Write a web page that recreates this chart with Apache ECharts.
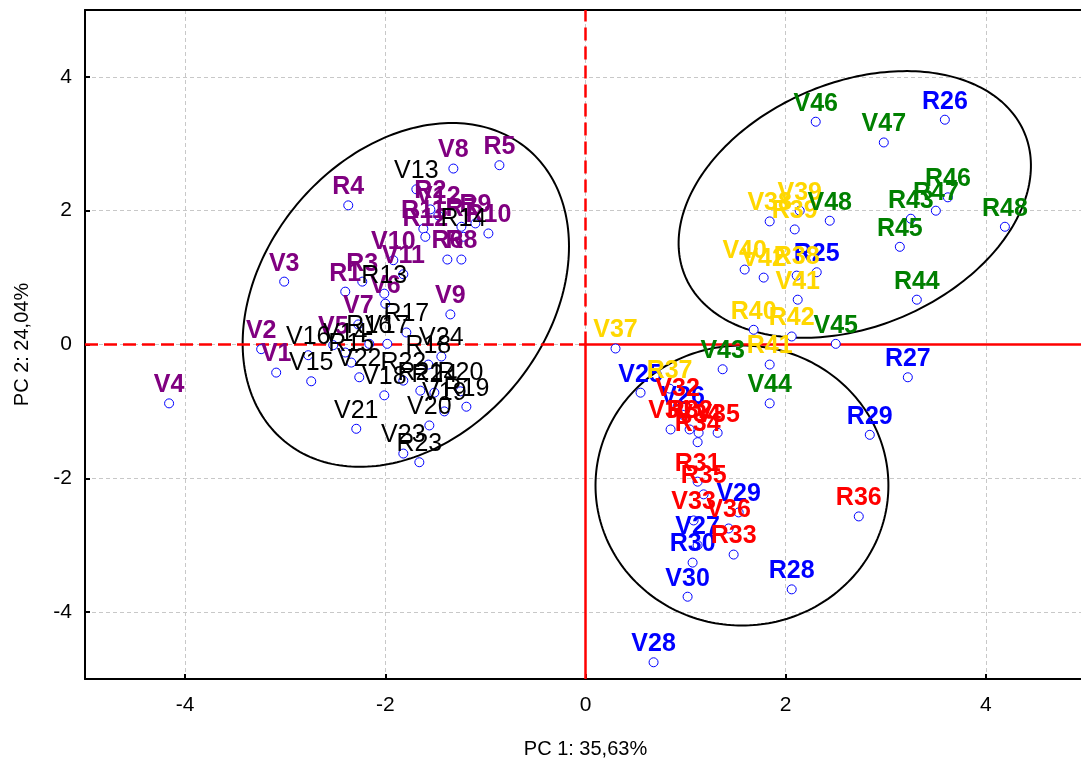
<!DOCTYPE html>
<html>
<head>
<meta charset="utf-8">
<script src="https://cdn.jsdelivr.net/npm/echarts@6/dist/echarts.min.js"></script>
<style>
  html, body { margin: 0; padding: 0; background: #ffffff; }
  #chart { width: 1081px; height: 760px; }
</style>
</head>
<body>
<div id="chart"></div>
<script>
// PCA scores: [label, PC 1, PC 2]
const purpleSamples = [
  ['V1', -3.09, -0.42], ['V2', -3.24, -0.07], ['V3', -3.01, 0.94], ['V4', -4.16, -0.88],
  ['V5', -2.52, -0.01], ['V6', -2.00, 0.61], ['V7', -2.27, 0.30], ['V8', -1.32, 2.63],
  ['V9', -1.35, 0.45], ['V10', -1.92, 1.26], ['V11', -1.82, 1.05], ['V12', -1.47, 1.93],
  ['R1', -2.40, 0.79], ['R2', -1.55, 2.02], ['R3', -2.23, 0.94], ['R4', -2.37, 2.08],
  ['R5', -0.86, 2.68], ['R6', -1.38, 1.27], ['R7', -1.24, 1.76], ['R8', -1.24, 1.27],
  ['R9', -1.10, 1.81], ['R10', -0.97, 1.66], ['R11', -1.62, 1.73], ['R12', -1.60, 1.61]
];
const blackSamples = [
  ['V13', -1.69, 2.32], ['V14', -2.40, -0.12], ['V15', -2.74, -0.55], ['V16', -2.77, -0.16],
  ['V17', -1.98, 0.01], ['V18', -2.01, -0.76], ['V19', -1.41, -1.00], ['V20', -1.56, -1.21],
  ['V21', -2.29, -1.26], ['V22', -2.26, -0.49], ['V23', -1.82, -1.63], ['V24', -1.44, -0.18],
  ['R13', -2.01, 0.76], ['R14', -1.22, 1.61], ['R15', -2.34, -0.27], ['R16', -2.16, 0.01],
  ['R17', -1.79, 0.18], ['R18', -1.57, -0.30], ['R19', -1.19, -0.93], ['R20', -1.25, -0.70],
  ['R21', -1.65, -0.69], ['R22', -1.82, -0.54], ['R23', -1.66, -1.76], ['R24', -1.51, -0.72]
];
const blueSamples = [
  ['V25', 0.55, -0.72], ['V26', 0.97, -1.05], ['V27', 1.12, -3.00], ['V28', 0.68, -4.75],
  ['V29', 1.53, -2.51], ['V30', 1.02, -3.77],
  ['R25', 2.31, 1.08], ['R26', 3.59, 3.36], ['R27', 3.22, -0.49], ['R28', 2.06, -3.66],
  ['R29', 2.84, -1.35], ['R30', 1.07, -3.26]
];
const redSamples = [
  ['V31', 0.85, -1.27], ['V32', 0.92, -0.93], ['V33', 1.08, -2.63], ['V34', 1.13, -1.32],
  ['V35', 1.32, -1.32], ['V36', 1.43, -2.75],
  ['R31', 1.12, -2.05], ['R32', 1.04, -1.27], ['R33', 1.48, -3.14], ['R34', 1.12, -1.46],
  ['R35', 1.18, -2.24], ['R36', 2.73, -2.57]
];
const goldSamples = [
  ['V37', 0.30, -0.06], ['V38', 1.84, 1.84], ['V39', 2.14, 2.00], ['V40', 1.59, 1.12],
  ['V41', 2.12, 0.67], ['V42', 1.78, 1.00],
  ['R37', 0.84, -0.66], ['R38', 2.11, 1.03], ['R39', 2.09, 1.72], ['R40', 1.68, 0.22],
  ['R41', 1.84, -0.30], ['R42', 2.06, 0.12]
];
const greenSamples = [
  ['V43', 1.37, -0.37], ['V44', 1.84, -0.88], ['V45', 2.50, 0.01], ['V46', 2.30, 3.33],
  ['V47', 2.98, 3.02], ['V48', 2.44, 1.85],
  ['R43', 3.25, 1.88], ['R44', 3.31, 0.67], ['R45', 3.14, 1.46], ['R46', 3.62, 2.20],
  ['R47', 3.50, 2.00], ['R48', 4.19, 1.76]
];

// Group ellipses: centre and two conjugate semi-axis vectors, in PC units
const ellipses = [
  { cx: -1.795, cy: 0.741, u: [1.212, 2.187], v: [-1.090, 1.349] },
  { cx: 2.690, cy: 2.093, u: [1.694, 1.075], v: [-0.477, 1.679] },
  { cx: 1.563, cy: -2.108, u: [1.463, 0.0], v: [0.0, 2.093] }
];

// Zero reference lines through the origin
const zeroDashed = [ [[-5, 0], [0, 0]], [[0, 0], [0, 5]] ];
const zeroSolid = [ [[0, 0], [5, 0]], [[0, 0], [0, -5]] ];

const axisRange = [-5, 5];
const xTitle = 'PC 1: 35,63%';
const yTitle = 'PC 2: 24,04%';

const groups = [
  { data: purpleSamples, color: '#800080', weight: 'bold' },
  { data: blackSamples, color: '#000000', weight: 'normal' },
  { data: blueSamples, color: '#0000ff', weight: 'bold' },
  { data: redSamples, color: '#ff0000', weight: 'bold' },
  { data: goldSamples, color: '#ffd700', weight: 'bold' },
  { data: greenSamples, color: '#008000', weight: 'bold' }
];

const FONT = "'Liberation Sans', Arial, Helvetica, sans-serif";

function axisCommon(name, gap, labelMargin) {
  return {
    type: 'value',
    min: axisRange[0],
    max: axisRange[1],
    splitNumber: 5,
    name: name,
    nameLocation: 'middle',
    nameGap: gap,
    nameTextStyle: { fontFamily: FONT, fontSize: 20, color: '#000' },
    axisLine: { show: true, onZero: false, lineStyle: { color: '#000', width: 2 } },
    axisTick: { show: true, inside: true, length: 5, lineStyle: { color: '#000', width: 2 } },
    axisLabel: {
      fontFamily: FONT, fontSize: 21, color: '#000', margin: labelMargin,
      showMinLabel: false, showMaxLabel: false
    },
    splitLine: { show: true, lineStyle: { color: '#c8c8c8', width: 1, type: [4, 3] } }
  };
}

// frame edges on the opposite sides (line only)
function frameAxis(position) {
  return {
    type: 'value', position: position, min: axisRange[0], max: axisRange[1],
    axisLine: { show: true, onZero: false, lineStyle: { color: '#000', width: 2 } },
    axisTick: { show: false }, axisLabel: { show: false }, splitLine: { show: false }
  };
}

const series = [];

// ellipses
series.push({
  type: 'custom',
  silent: true,
  z: 3,
  data: ellipses.map(e => [e.cx, e.cy]),
  renderItem: function (params, api) {
    const e = ellipses[params.dataIndex];
    const pts = [];
    const n = 240;
    for (let i = 0; i <= n; i++) {
      const t = i / n * Math.PI * 2;
      const c = Math.cos(t), s = Math.sin(t);
      pts.push(api.coord([e.cx + e.u[0] * c + e.v[0] * s, e.cy + e.u[1] * c + e.v[1] * s]));
    }
    return {
      type: 'polyline',
      shape: { points: pts },
      style: { stroke: '#000', lineWidth: 2, fill: null }
    };
  }
});

// zero lines
zeroDashed.forEach(seg => series.push({
  type: 'line', data: seg, silent: true, symbol: 'none', z: 4,
  lineStyle: { color: '#ff0000', width: 2.5, type: [13, 6] }
}));
zeroSolid.forEach(seg => series.push({
  type: 'line', data: seg, silent: true, symbol: 'none', z: 4,
  lineStyle: { color: '#ff0000', width: 2.5, type: 'solid' }
}));

// sample markers
const allPoints = [];
groups.forEach(g => g.data.forEach(d => allPoints.push([d[1], d[2]])));
series.push({
  type: 'scatter',
  silent: true,
  z: 5,
  symbol: 'circle',
  symbolSize: 9,
  data: allPoints,
  itemStyle: { color: '#ffffff', borderColor: '#0000ff', borderWidth: 1, opacity: 1 }
});

// sample labels
groups.forEach(g => series.push({
  type: 'scatter',
  silent: true,
  z: 6,
  symbol: 'circle',
  symbolSize: 9,
  itemStyle: { color: 'rgba(0,0,0,0)', borderWidth: 0, opacity: 1 },
  data: g.data.map(d => ({ name: d[0], value: [d[1], d[2]] })),
  label: {
    show: true,
    position: 'top',
    distance: 1,
    formatter: '{b}',
    fontFamily: FONT,
    fontSize: 25,
    fontWeight: g.weight,
    color: g.color,
    opacity: 1
  }
}));

const chart = echarts.init(document.getElementById('chart'), null, { renderer: 'canvas' });
chart.setOption({
  animation: false,
  backgroundColor: '#ffffff',
  grid: {
    left: 85, top: 10, width: 1001, height: 669,
    containLabel: false,
    outerBoundsMode: 'none',
    show: false
  },
  xAxis: [axisCommon(xTitle, 60, 16), frameAxis('top')],
  yAxis: [axisCommon(yTitle, 53, 13), frameAxis('right')],
  series: series
});
</script>
</body>
</html>
